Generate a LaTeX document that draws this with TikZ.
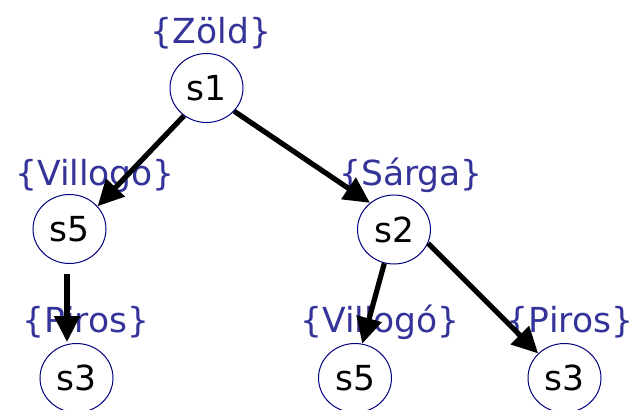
\documentclass[tikz,border=0pt]{standalone}
\usepackage{fontspec}
\setmainfont{DejaVu Sans}
\usetikzlibrary{shapes.geometric,arrows.meta}
\definecolor{lblblue}{RGB}{51,51,153}
\definecolor{ringblue}{RGB}{0,0,128}
\tikzset{
  state/.style={ellipse, draw=ringblue, line width=1pt, fill=white,
    minimum width=73pt, minimum height=69pt, inner sep=0pt,
    font=\fontsize{34.5}{42}\selectfont, text=black},
  lbl/.style={anchor=base, inner sep=0pt, text=lblblue,
    font=\fontsize{34.5}{42}\selectfont},
  trans/.style={line width=5.2pt, -{Triangle[length=26pt,width=25pt]}}
}
\begin{document}
\begin{tikzpicture}[x=1pt,y=1pt]
\useasboundingbox (0,0) rectangle (633,-410);
% labels
\node[lbl] (l1) at (211,-43) {\{Zöld\}};
\node[lbl] (l5) at (95,-185) {\{Villogó\}};
\node[lbl] (l2) at (411,-185) {\{Sárga\}};
\node[lbl] (l3a) at (86,-332) {\{Piros\}};
\node[lbl] (l5b) at (380,-332) {\{Villogó\}};
\node[lbl] (l3b) at (570,-332) {\{Piros\}};
% states
\node[state] (s1) at (206.5,-88) {s1};
\node[state] (s5) at (69.5,-229) {s5};
\node[state] (s2) at (394,-229.5) {s2};
\node[state] (s3a) at (76.5,-378) {s3};
\node[state] (s5b) at (355,-378) {s5};
\node[state] (s3b) at (564.5,-378) {s3};
% transitions
\draw[trans] (s1.231) -- (s5.39);
\draw[trans] (s1.320) -- (s2.132);
\draw[trans] ([xshift=-2.5pt,yshift=-10pt]s5.south) -- ([xshift=-9.5pt,yshift=1pt]s3a.north);
\draw[trans] (s2.254) -- (s5b.78);
\draw[trans] (s2.338) -- (s3b.137);
\end{tikzpicture}
\end{document}
